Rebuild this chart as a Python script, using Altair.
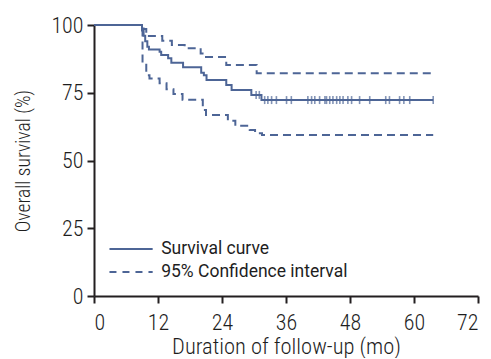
import altair as alt
import pandas as pd

# Kaplan-Meier survival curve (month, %)
surv_t = [0, 9.0, 9.3, 9.6, 10.0, 10.3, 12.3, 12.6, 13.9, 14.5, 16.7, 20.1, 20.6, 21.1, 24.8, 25.8, 29.5, 31.4, 63.6]
surv_s = [100, 98.0, 96.0, 94.0, 92.0, 91.0, 90.1, 88.9, 87.7, 86.1, 84.4, 82.4, 81.5, 79.7, 77.9, 76.0, 74.2, 72.3, 72.3]

# Upper 95% CI
upper_t = [0, 9.3, 9.8, 12.8, 14.6, 17.0, 20.0, 21.0, 24.8, 30.5, 63.6]
upper_s = [100, 98.5, 95.9, 94.2, 92.6, 91.4, 89.5, 88.2, 85.2, 82.2, 82.2]

# Lower 95% CI
lower_t = [0, 9.1, 9.8, 10.4, 12.3, 13.6, 14.9, 16.6, 20.4, 21.0, 25.1, 26.5, 29.2, 30.2, 31.5, 63.6]
lower_s = [100, 86.0, 81.5, 80.3, 78.5, 76.3, 74.5, 72.4, 68.6, 66.8, 64.7, 62.8, 61.3, 60.1, 59.4, 59.4]

# Censored observations
cens_t = [30.4, 31.0, 32.0, 32.6, 33.3, 34.2, 36.1, 37.0, 40.1, 40.8, 41.4, 42.3, 43.3, 43.6,
          44.2, 44.8, 45.5, 46.1, 46.7, 47.6, 48.3, 49.8, 51.7, 54.7, 55.4, 57.3, 58.1, 59.2, 63.6]
cens_s = [74.2, 74.2] + [72.3] * 27

# Legend entries
leg_labels = ["Survival curve", "95% Confidence interval"]
leg_y = [17.3, 8.9]
leg_x0 = 2.9
leg_x1 = 11.0
leg_tx = 12.6

COLOR = "#4d6596"
FONT = "Roboto Condensed, DejaVu Sans Condensed, Roboto, sans-serif"
LFONT = "Roboto, sans-serif"
AX = "#231f20"
TXT = "#1e1e1e"

surv = pd.DataFrame({"t": surv_t, "s": surv_s})
ci = pd.concat([
    pd.DataFrame({"t": upper_t, "s": upper_s, "band": "upper"}),
    pd.DataFrame({"t": lower_t, "s": lower_s, "band": "lower"}),
])
cens = pd.DataFrame({"t": cens_t, "s": cens_s})
leg = pd.DataFrame({"label": leg_labels, "y": leg_y, "x0": leg_x0, "x1": leg_x1, "tx": leg_tx,
                    "dash": ["solid", "dash"]})

xs = alt.Scale(domain=[0, 72], nice=False, zero=False)
ys = alt.Scale(domain=[0, 100], nice=False)

xax = alt.Axis(values=[0, 12, 24, 36, 48, 60, 72], title="Duration of follow-up (mo)", grid=False)
yax = alt.Axis(values=[0, 25, 50, 75, 100], title="Overall survival (%)", grid=False,
               titleFontSize=19.5)

base_x = alt.X("t:Q", scale=xs, axis=xax)
base_y = alt.Y("s:Q", scale=ys, axis=yax)

line = alt.Chart(surv).mark_line(interpolate="step-after", color=COLOR, strokeWidth=2).encode(
    x=base_x, y=base_y)

ci_lines = alt.Chart(ci).mark_line(interpolate="step-after", color=COLOR, strokeWidth=2,
                                   strokeDash=[8, 5]).encode(
    x=alt.X("t:Q", scale=xs), y=alt.Y("s:Q", scale=ys), detail="band:N")

ticks = alt.Chart(cens).mark_tick(orient="vertical", color=COLOR, size=8, thickness=1.6).encode(
    x=alt.X("t:Q", scale=xs), y=alt.Y("s:Q", scale=ys))

leg_solid = alt.Chart(leg[leg.dash == "solid"]).mark_rule(color=COLOR, strokeWidth=2).encode(
    x=alt.X("x0:Q", scale=xs), x2="x1:Q", y=alt.Y("y:Q", scale=ys))
leg_dash = alt.Chart(leg[leg.dash == "dash"]).mark_rule(color=COLOR, strokeWidth=2,
                                                       strokeDash=[7, 6]).encode(
    x=alt.X("x0:Q", scale=xs), x2="x1:Q", y=alt.Y("y:Q", scale=ys))
leg_text = alt.Chart(leg).mark_text(align="left", baseline="middle", font=LFONT, fontSize=17.5,
                                    color=TXT).encode(
    x=alt.X("tx:Q", scale=xs), y=alt.Y("y:Q", scale=ys), text="label:N")

chart = alt.layer(ci_lines, line, ticks, leg_solid, leg_dash, leg_text).properties(
    width=384, height=271,
    autosize=alt.AutoSizeParams(type="none"),
    padding={"left": 86, "top": 17, "right": 5, "bottom": 62},
).configure_view(stroke=None).configure_axis(
    labelFont=FONT, titleFont=FONT, labelFontSize=22, titleFontSize=22.5,
    labelFontWeight=300, titleFontWeight=300,
    labelColor=TXT, titleColor=TXT,
    domainColor=AX, domainWidth=2, tickColor=AX, tickWidth=2, tickSize=7,
).configure_axisX(labelPadding=9, titlePadding=2).configure_axisY(labelPadding=4, titlePadding=17)

chart.save("out.html", embed_options={"renderer": "svg", "actions": False})
